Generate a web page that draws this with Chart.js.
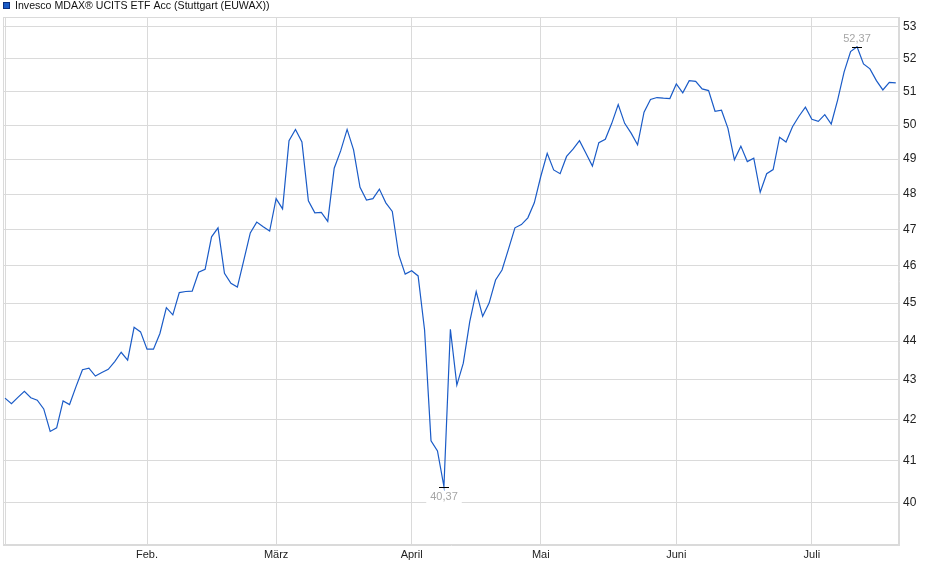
<!DOCTYPE html>
<html>
<head>
<meta charset="utf-8">
<script src="https://cdn.jsdelivr.net/npm/chart.js"></script>
<style>
  html, body { margin: 0; padding: 0; background: #fff; }
  canvas { display: block; }
</style>
</head>
<body>
<canvas id="chart" width="940" height="579"></canvas>
<script>
const TITLE = "Invesco MDAX\u00ae UCITS ETF Acc (Stuttgart (EUWAX))";

// closing prices, one per trading day, Jan - mid Jul
const prices = [
  42.54, 42.40, 42.56, 42.71, 42.55, 42.49, 42.27, 41.71, 41.80, 42.47,
  42.38, 42.83, 43.26, 43.30, 43.10, 43.19, 43.27, 43.47, 43.71, 43.51,
  44.36, 44.24, 43.79, 43.79, 44.20, 44.88, 44.69, 45.28, 45.31, 45.32,
  45.83, 45.91, 46.80, 47.05, 45.80, 45.53, 45.43, 46.16, 46.91, 47.21,
  47.08, 46.96, 47.87, 47.58, 49.54, 49.87, 49.50, 47.81, 47.47, 47.48,
  47.23, 48.74, 49.24, 49.87, 49.27, 48.19, 47.83, 47.87, 48.14, 47.75,
  47.51, 46.30, 45.78, 45.87, 45.73, 44.29, 41.48, 41.23, 40.37, 44.31,
  42.87, 43.43, 44.51, 45.31, 44.65, 45.00, 45.62, 45.89, 46.46, 47.05,
  47.14, 47.33, 47.75, 48.50, 49.17, 48.69, 48.58, 49.08, 49.29, 49.54,
  49.17, 48.80, 49.48, 49.58, 50.05, 50.61, 50.05, 49.76, 49.42, 50.38,
  50.76, 50.82, 50.80, 50.79, 51.23, 50.96, 51.33, 51.31, 51.08, 51.03,
  50.41, 50.44, 49.90, 48.98, 49.38, 48.93, 49.03, 48.05, 48.58, 48.70,
  49.64, 49.50, 49.95, 50.26, 50.53, 50.17, 50.11, 50.31, 50.03, 50.75,
  51.60, 52.22, 52.37, 51.84, 51.69, 51.33, 51.05, 51.28, 51.26,
];

// index of the first trading day of each month, and its label
const monthStarts = [0, 22, 42, 63, 83, 104, 125];
const monthLabels = ["", "Feb.", "M\u00e4rz", "April", "Mai", "Juni", "Juli"];

const yTicks = [40, 41, 42, 43, 44, 45, 46, 47, 48, 49, 50, 51, 52, 53];

const LINE_COLOR = "#1a5bc7";
const GRID_COLOR = "#dadada";
const FONT = "'Liberation Sans', Arial, sans-serif";

const points = prices.map((p, i) => ({ x: i, y: p }));

function fmt(v) {
  return v.toFixed(2).replace(".", ",");
}

const decorations = {
  id: "decorations",
  beforeDatasetsDraw(chart) {
    const { ctx, chartArea } = chart;
    ctx.save();
    ctx.strokeStyle = GRID_COLOR;
    ctx.lineWidth = 1;
    ctx.strokeRect(
      chartArea.left + 0.5,
      chartArea.top + 0.5,
      chartArea.width - 1,
      chartArea.height - 1
    );
    ctx.restore();
  },
  afterDatasetsDraw(chart) {
    const { ctx } = chart;
    const xs = chart.scales.x;
    const ys = chart.scales.y;
    let lo = 0;
    let hi = 0;
    prices.forEach((p, i) => {
      if (p < prices[lo]) lo = i;
      if (p > prices[hi]) hi = i;
    });

    ctx.save();
    ctx.font = "11px " + FONT;
    ctx.textAlign = "center";
    ctx.textBaseline = "middle";
    [
      [lo, 9.5],
      [hi, -8.5],
    ].forEach(([i, dy]) => {
      const px = Math.round(xs.getPixelForValue(i));
      const py = Math.round(ys.getPixelForValue(prices[i])) + 0.5;
      ctx.strokeStyle = "#000";
      ctx.lineWidth = 1;
      ctx.beginPath();
      ctx.moveTo(px - 5, py);
      ctx.lineTo(px + 5, py);
      ctx.stroke();

      const txt = fmt(prices[i]);
      const w = ctx.measureText(txt).width;
      ctx.fillStyle = "#fff";
      ctx.fillRect(px - w / 2 - 4, py + dy - 6, w + 8, 13);
      ctx.fillStyle = "#a6a6a6";
      ctx.fillText(txt, px, py + dy);
    });
    ctx.restore();
  },
  afterDraw(chart) {
    const { ctx } = chart;
    ctx.save();
    ctx.fillStyle = LINE_COLOR;
    ctx.fillRect(3, 2, 7, 7);
    ctx.strokeStyle = "#0a2f80";
    ctx.lineWidth = 1;
    ctx.strokeRect(3.5, 2.5, 6, 6);
    ctx.fillStyle = "#111";
    ctx.font = "10.6px " + FONT;
    ctx.textAlign = "left";
    ctx.textBaseline = "middle";
    ctx.fillText(TITLE, 15, 6);
    ctx.restore();
  },
};

new Chart(document.getElementById("chart"), {
  type: "line",
  data: {
    datasets: [
      {
        data: points,
        borderColor: LINE_COLOR,
        borderWidth: 1.2,
        pointRadius: 0,
        tension: 0,
        fill: false,
      },
    ],
  },
  options: {
    responsive: false,
    animation: false,
    events: [],
    layout: { padding: { top: 17, left: 3, right: 0, bottom: 0 } },
    plugins: {
      legend: { display: false },
      tooltip: { enabled: false },
    },
    scales: {
      x: {
        type: "linear",
        min: -0.31,
        max: 138.5,
        grid: { color: GRID_COLOR, drawTicks: false },
        border: { display: true, color: GRID_COLOR },
        afterBuildTicks: (scale) => {
          scale.ticks = monthStarts.map((v) => ({ value: v }));
        },
        afterFit: (scale) => {
          scale.height = 34;
        },
        ticks: {
          autoSkip: false,
          maxRotation: 0,
          padding: 3,
          color: "#222",
          font: { family: FONT, size: 11 },
          callback: (value) => {
            const k = monthStarts.indexOf(value);
            return k >= 0 ? monthLabels[k] : "";
          },
        },
      },
      y: {
        type: "logarithmic",
        position: "right",
        min: 39,
        max: 53.3,
        grid: { color: GRID_COLOR, drawTicks: false },
        border: { display: true, color: GRID_COLOR },
        afterBuildTicks: (scale) => {
          scale.ticks = yTicks.map((v) => ({ value: v }));
        },
        afterFit: (scale) => {
          scale.width = 41;
        },
        ticks: {
          padding: 4,
          color: "#222",
          font: { family: FONT, size: 12 },
          callback: (value) => String(value),
        },
      },
    },
  },
  plugins: [decorations],
});
</script>
</body>
</html>
